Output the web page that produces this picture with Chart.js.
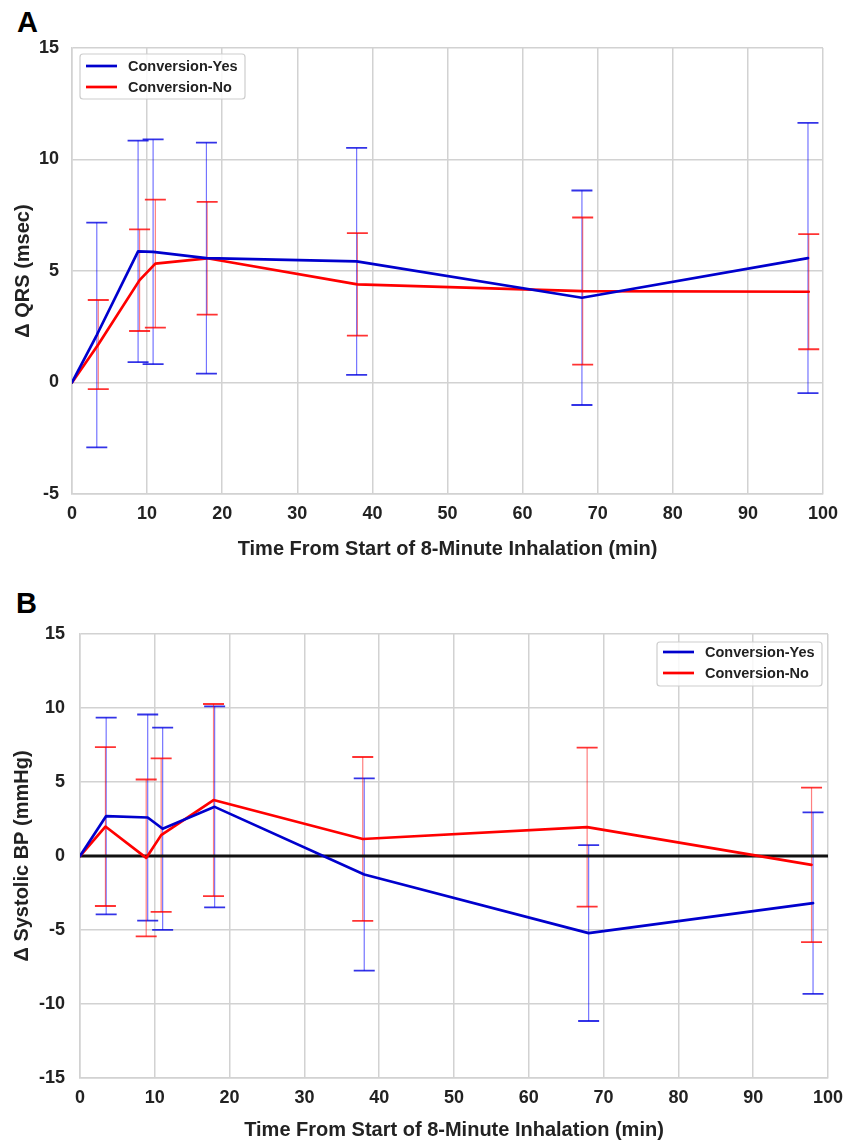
<!DOCTYPE html>
<html>
<head>
<meta charset="utf-8">
<script src="https://cdn.jsdelivr.net/npm/chart.js@4.4.1/dist/chart.umd.min.js"></script>
<style>
  html, body { margin: 0; padding: 0; background: #fff; }
  body { width: 845px; height: 1142px; position: relative; overflow: hidden; font-family: "Liberation Sans", Arial, sans-serif; }
  .panel { position: absolute; left: 0; width: 845px; }
  .lbl { position: absolute; font-weight: bold; font-size: 29px; line-height: 29px; color: #000; }
</style>
</head>
<body>
<div class="lbl" style="top:8px;left:17px">A</div>
<div class="lbl" style="top:589px;left:16px">B</div>
<div class="panel" style="top:0;height:575px"><canvas id="cA" width="845" height="575"></canvas></div>
<div class="panel" style="top:575px;height:567px"><canvas id="cB" width="845" height="567"></canvas></div>
<script>
// ---- Data ----
const seriesNames = ["Conversion-Yes", "Conversion-No"];
const xTicks = [0, 10, 20, 30, 40, 50, 60, 70, 80, 90, 100];
const yTicksA = [-5, 0, 5, 10, 15];
const yTicksB = [-15, -10, -5, 0, 5, 10, 15];

// Panel A: Δ QRS (msec)
const timeA_yes = [0, 3.3, 8.8, 10.8, 17.9, 37.9, 67.9, 98];
const qrs_yes   = [0, 2.13, 5.88, 5.86, 5.58, 5.43, 3.8, 5.58];
const qrs_yes_sd = [0, 5.04, 4.97, 5.04, 5.18, 5.09, 4.81, 6.06];
const timeA_no  = [0, 3.5, 9.0, 11.1, 18.0, 38.0, 68.0, 98.1];
const qrs_no    = [0, 1.7, 4.59, 5.33, 5.57, 4.4, 4.1, 4.07];
const qrs_no_sd = [0, 2.0, 2.28, 2.87, 2.53, 2.3, 3.3, 2.58];

// Panel B: Δ Systolic BP (mmHg)
const timeB_yes = [0, 3.5, 9.05, 11.05, 18.0, 38.0, 68.0, 98.0];
const sbp_yes   = [0, 2.7, 2.6, 1.84, 3.32, -1.25, -5.21, -3.18];
const sbp_yes_sd = [0, 6.65, 6.96, 6.83, 6.79, 6.5, 5.94, 6.13];
const timeB_no  = [0, 3.4, 8.85, 10.85, 17.85, 37.8, 67.8, 97.8];
const sbp_no    = [0, 1.99, -0.13, 1.41, 3.78, 1.15, 1.95, -0.6];
const sbp_no_sd = [0, 5.37, 5.3, 5.19, 6.49, 5.54, 5.37, 5.22];
const zeroLineX = [0, 100];
const zeroLineY = [0, 0];

// ---- Styling ----
const BLUE = "#0000cd";
const RED = "#ff0000";
const GRID = "rgb(210,210,210)";
const FONT = "'Liberation Sans', Arial, sans-serif";

function pts(xs, ys) { return xs.map((x, i) => ({ x: x, y: ys[i] })); }

const errorBarPlugin = {
  id: "errorBars",
  beforeDatasetsDraw(chart) {
    const ctx = chart.ctx;
    const xs = chart.scales.x, ys = chart.scales.y;
    chart.data.datasets.forEach((ds, di) => {
      if (!ds.errors) return;
      const meta = chart.getDatasetMeta(di);
      if (meta.hidden) return;
      ds.data.forEach((p, i) => {
        const e = ds.errors[i];
        if (!e) return;
        const px = xs.getPixelForValue(p.x);
        const yt = ys.getPixelForValue(p.y + e);
        const yb = ys.getPixelForValue(p.y - e);
        ctx.save();
        ctx.strokeStyle = ds.errStem;
        ctx.lineWidth = 1.2;
        ctx.beginPath(); ctx.moveTo(px, yt); ctx.lineTo(px, yb); ctx.stroke();
        ctx.strokeStyle = ds.errCap;
        ctx.lineWidth = 1.8;
        ctx.beginPath();
        ctx.moveTo(px - 10.5, yt); ctx.lineTo(px + 10.5, yt);
        ctx.moveTo(px - 10.5, yb); ctx.lineTo(px + 10.5, yb);
        ctx.stroke();
        ctx.restore();
      });
    });
  }
};

const boxLegendPlugin = {
  id: "boxLegend",
  afterDraw(chart, args, opts) {
    if (!opts || !opts.box) return;
    const ctx = chart.ctx;
    const b = opts.box;
    ctx.save();
    ctx.fillStyle = "rgba(255,255,255,0.85)";
    ctx.strokeStyle = "rgb(205,205,205)";
    ctx.lineWidth = 1.2;
    const r = 3;
    ctx.beginPath();
    ctx.moveTo(b.x + r, b.y);
    ctx.lineTo(b.x + b.w - r, b.y); ctx.quadraticCurveTo(b.x + b.w, b.y, b.x + b.w, b.y + r);
    ctx.lineTo(b.x + b.w, b.y + b.h - r); ctx.quadraticCurveTo(b.x + b.w, b.y + b.h, b.x + b.w - r, b.y + b.h);
    ctx.lineTo(b.x + r, b.y + b.h); ctx.quadraticCurveTo(b.x, b.y + b.h, b.x, b.y + b.h - r);
    ctx.lineTo(b.x, b.y + r); ctx.quadraticCurveTo(b.x, b.y, b.x + r, b.y);
    ctx.closePath(); ctx.fill(); ctx.stroke();
    const items = chart.data.datasets.filter(d => d.inLegend);
    items.forEach((d, i) => {
      const y = b.y + opts.rowStart + i * opts.rowGap;
      ctx.strokeStyle = d.borderColor;
      ctx.lineWidth = 2.7;
      ctx.beginPath(); ctx.moveTo(b.x + 6, y); ctx.lineTo(b.x + 37, y); ctx.stroke();
      ctx.fillStyle = "#222";
      ctx.font = "bold 14.5px " + FONT;
      ctx.textBaseline = "middle";
      ctx.textAlign = "left";
      ctx.fillText(d.label, b.x + 48, y + 0.5);
    });
    ctx.restore();
  }
};

function makeChart(id, cfg) {
  const yTicks = cfg.yTicks;
  return new Chart(document.getElementById(id), {
    type: "line",
    data: { datasets: cfg.datasets },
    options: {
      responsive: false,
      animation: false,
      events: [],
      layout: { padding: { left: 0, top: cfg.top, right: cfg.right, bottom: cfg.bottom } },
      elements: { point: { radius: 0 }, line: { tension: 0, borderCapStyle: "round", borderJoinStyle: "round" } },
      plugins: {
        legend: { display: false },
        tooltip: { enabled: false },
        boxLegend: cfg.legend
      },
      scales: {
        x: {
          type: "linear",
          min: 0, max: 100,
          afterBuildTicks: s => { s.ticks = xTicks.map(v => ({ value: v })); },
          afterFit: s => { s.height = cfg.xHeight; s.paddingLeft = 0; s.paddingRight = 0; },
          grid: { color: GRID, lineWidth: 1.5, drawTicks: false },
          border: { display: true, color: GRID, width: 1.5 },
          ticks: { color: "#222", padding: cfg.xPad, font: { family: FONT, size: 18, weight: "bold" } },
          title: {
            display: true, text: "Time From Start of 8-Minute Inhalation (min)", color: "#222",
            padding: { top: 0, bottom: 0 },
            font: { family: FONT, size: 20, weight: "bold" }
          }
        },
        y: {
          type: "linear",
          min: yTicks[0], max: yTicks[yTicks.length - 1],
          afterBuildTicks: s => { s.ticks = yTicks.map(v => ({ value: v })); },
          afterFit: s => { s.width = cfg.yWidth; s.paddingTop = 0; s.paddingBottom = 0; },
          grid: { color: GRID, lineWidth: 1.5, drawTicks: false },
          border: { display: true, color: GRID, width: 1.5 },
          ticks: { color: "#222", padding: cfg.yPad, font: { family: FONT, size: 18, weight: "bold" } },
          title: {
            display: true, text: cfg.yTitle, color: "#222",
            padding: { top: cfg.yTitlePad, bottom: 0 },
            font: { family: FONT, size: 20, weight: "bold" }
          }
        }
      }
    },
    plugins: [errorBarPlugin, boxLegendPlugin]
  });
}

function lineDs(label, xs, ys, sd, color, stem, cap) {
  return {
    label: label, data: pts(xs, ys), errors: sd,
    borderColor: color, backgroundColor: color, borderWidth: 2.7,
    errStem: stem, errCap: cap, inLegend: true, fill: false
  };
}

makeChart("cA", {
  top: 48, right: 22, bottom: 14, xHeight: 67, yWidth: 72, xPad: 9, yPad: 13, yTitlePad: 11,
  yTicks: yTicksA,
  yTitle: "\u0394 QRS (msec)",
  legend: { box: { x: 80, y: 54, w: 165, h: 45 }, rowStart: 12, rowGap: 21 },
  datasets: [
    lineDs(seriesNames[0], timeA_yes, qrs_yes, qrs_yes_sd, BLUE, "rgba(0,0,255,0.55)", "rgba(0,0,225,0.8)"),
    lineDs(seriesNames[1], timeA_no, qrs_no, qrs_no_sd, RED, "rgba(255,0,0,0.5)", "rgba(255,0,0,0.8)")
  ]
});

makeChart("cB", {
  top: 59, right: 17, bottom: 0, xHeight: 64, yWidth: 80, xPad: 9, yPad: 15, yTitlePad: 10,
  yTicks: yTicksB,
  yTitle: "\u0394 Systolic BP (mmHg)",
  legend: { box: { x: 657, y: 67, w: 165, h: 44 }, rowStart: 10, rowGap: 21 },
  datasets: [
    lineDs(seriesNames[0], timeB_yes, sbp_yes, sbp_yes_sd, BLUE, "rgba(0,0,255,0.55)", "rgba(0,0,225,0.8)"),
    lineDs(seriesNames[1], timeB_no, sbp_no, sbp_no_sd, RED, "rgba(255,0,0,0.5)", "rgba(255,0,0,0.8)"),
    { label: "zero", data: pts(zeroLineX, zeroLineY), borderColor: "#111", borderWidth: 2.8, inLegend: false, fill: false }
  ]
});
</script>
</body>
</html>
